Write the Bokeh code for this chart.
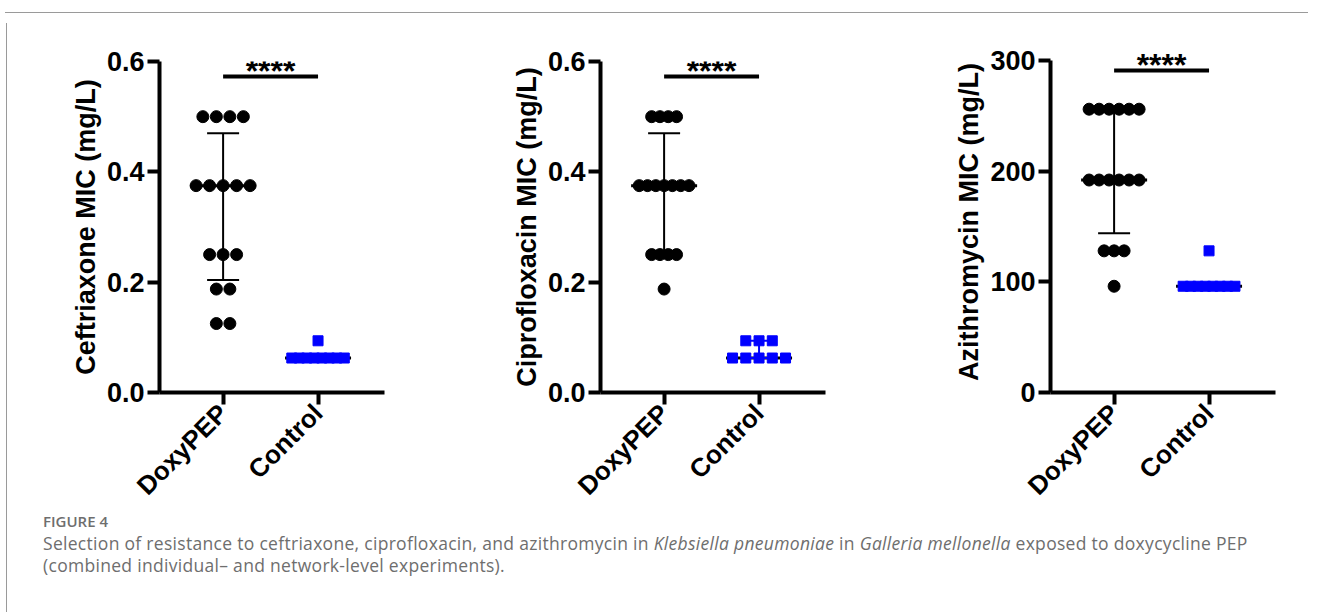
import math
from bokeh.plotting import figure
from bokeh.models import FixedTicker, Div, Spacer, Range1d, NumeralTickFormatter, Label
from bokeh.layouts import row, column
from bokeh.embed import file_html
from bokeh.resources import INLINE

# ---------------- data ----------------
categories = ["DoxyPEP", "Control"]

cef_doxy = [0.5, 0.5, 0.5, 0.5, 0.375, 0.375, 0.375, 0.375, 0.375,
            0.25, 0.25, 0.25, 0.1875, 0.1875, 0.125, 0.125]
cef_ctrl = [0.0625, 0.0625, 0.0625, 0.0625, 0.0625, 0.0625, 0.0625, 0.0625, 0.09375]
cef_median = [0.375, 0.0625]
cef_q1 = [0.204, 0.0625]
cef_q3 = [0.47, 0.0625]

cip_doxy = [0.5, 0.5, 0.5, 0.5, 0.375, 0.375, 0.375, 0.375, 0.375, 0.375, 0.375,
            0.25, 0.25, 0.25, 0.25, 0.1875]
cip_ctrl = [0.0625, 0.0625, 0.0625, 0.0625, 0.0625, 0.09375, 0.09375, 0.09375]
cip_median = [0.375, 0.0625]
cip_q1 = [0.25, 0.0625]
cip_q3 = [0.47, 0.09375]

azi_doxy = [256, 256, 256, 256, 256, 256, 192, 192, 192, 192, 192, 192,
            128, 128, 128, 96]
azi_ctrl = [96, 96, 96, 96, 96, 96, 96, 96, 128]
azi_median = [192, 96]
azi_q1 = [144, 96]
azi_q3 = [256, 96]

y_labels = ["Ceftriaxone MIC (mg/L)", "Ciprofloxacin MIC (mg/L)", "Azithromycin MIC (mg/L)"]
y_ticks_small = [0, 0.2, 0.4, 0.6]
y_ticks_azi = [0, 100, 200, 300]
sig_text = "****"
sig_small = 0.573
sig_azi = 291

caption_label = "FIGURE 4"

# ---------------- style / layout ----------------
FONT = "Liberation Sans"
FRAME_W = 225
X0, X1 = 0.33, 2.70
PX = FRAME_W / (X1 - X0)
BLUE = "#0000FF"
FIG_TOP = 16      # page y of the figure's top edge
ZERO_Y = 390      # page y of the value 0


def spread(vals, center, step_px):
    xs = []
    counts = {}
    for v in vals:
        counts[v] = counts.get(v, 0) + 1
    idx = {}
    for v in vals:
        k = counts[v]
        i = idx.get(v, 0)
        idx[v] = i + 1
        xs.append(center + (i - (k - 1) / 2) * step_px / PX)
    return xs


def make_panel(ylabel, doxy, ctrl, med, q1, q3, yticks, yfmt, yend, axis_top,
               frame_top, sig_y, step_d, step_c, width, right):
    # the axis 0..yend spans ZERO_Y..axis_top; the view may reach a bit higher
    yview = yend * (ZERO_Y - frame_top) / (ZERO_Y - axis_top)
    p = figure(width=width, height=499, x_range=Range1d(X0, X1),
               y_range=Range1d(0, yview), output_backend="svg",
               toolbar_location=None, min_border_left=147,
               min_border_right=right, min_border_top=frame_top - FIG_TOP,
               min_border_bottom=125)
    p.grid.visible = False
    p.outline_line_color = None
    p.background_fill_color = "white"
    p.border_fill_color = "white"

    for ax in (p.xaxis[0], p.yaxis[0]):
        ax.axis_line_width = 4
        ax.axis_line_color = "black"
        ax.major_tick_line_width = 4
        ax.major_tick_line_color = "black"
        ax.major_tick_out = 12
        ax.major_tick_in = 0
        ax.minor_tick_line_color = None
        ax.major_label_text_font = FONT
        ax.major_label_text_font_style = "bold"
        ax.major_label_text_color = "black"

    yax = p.yaxis[0]
    yax.ticker = FixedTicker(ticks=yticks)
    yax.bounds = (0, yend)
    yax.formatter = NumeralTickFormatter(format=yfmt)
    yax.major_label_text_font_size = "27px"
    yax.major_label_standoff = 3
    yax.axis_label = ylabel
    yax.axis_label_text_font = FONT
    yax.axis_label_text_font_style = "bold"
    yax.axis_label_text_font_size = "27px"
    yax.axis_label_text_color = "black"
    yax.axis_label_standoff = 3

    xax = p.xaxis[0]
    xax.ticker = FixedTicker(ticks=[1, 2])
    xax.major_label_overrides = {1: categories[0], 2: categories[1]}
    xax.major_label_text_font_size = "26px"
    xax.major_label_orientation = math.pi / 4
    xax.major_label_standoff = 4

    cx = [1, 2]
    # median lines
    p.segment(x0=[c - 33 / PX for c in cx], x1=[c + 33 / PX for c in cx],
              y0=med, y1=med, line_color="black", line_width=3)
    # interquartile range bars
    cols = ["black", BLUE]
    p.segment(x0=cx, x1=cx, y0=q1, y1=q3, line_color=cols, line_width=2)
    p.segment(x0=[c - 16 / PX for c in cx], x1=[c + 16 / PX for c in cx],
              y0=q1, y1=q1, line_color=cols, line_width=2)
    p.segment(x0=[c - 16 / PX for c in cx], x1=[c + 16 / PX for c in cx],
              y0=q3, y1=q3, line_color=cols, line_width=2)

    p.scatter(spread(doxy, 1, step_d), doxy, marker="circle", size=12,
              fill_color="black", line_color="black")
    p.scatter(spread(ctrl, 2, step_c), ctrl, marker="square", size=10,
              fill_color=BLUE, line_color=BLUE)

    # significance bar
    p.segment(x0=[1], x1=[2], y0=[sig_y], y1=[sig_y], line_color="black",
              line_width=4)
    p.add_layout(Label(x=1.5, y=sig_y, text=sig_text, text_align="center",
                       text_baseline="alphabetic", y_offset=5,
                       text_font=FONT, text_font_style="bold",
                       text_font_size="32px", text_color="black"))
    return p


p1 = make_panel(y_labels[0], cef_doxy, cef_ctrl, cef_median, cef_q1, cef_q3,
                y_ticks_small, "0.0", 0.6, 59, 59, sig_small, 13.5, 7.5, 441, 69)
p2 = make_panel(y_labels[1], cip_doxy, cip_ctrl, cip_median, cip_q1, cip_q3,
                y_ticks_small, "0.0", 0.6, 59, 59, sig_small, 8.3, 13.25, 450, 78)
p3 = make_panel(y_labels[2], azi_doxy, azi_ctrl, azi_median, azi_q1, azi_q3,
                y_ticks_azi, "0", 300, 58, 49, sig_azi, 10, 7.4, 410, 38)

caption_html = (
    '<div style="font-family:\'Open Sans\',sans-serif;color:#6e6e6e;'
    'position:relative;top:-10px;'
    'padding-left:26px;padding-top:0px;white-space:nowrap;margin:0;">'
    '<div style="font-size:15px;font-weight:600;line-height:18px;margin:0;">'
    + caption_label + '</div>'
    '<div style="font-size:17.5px;letter-spacing:0.3px;line-height:22px;margin:2px 0 0 0;">'
    'Selection of resistance to ceftriaxone, ciprofloxacin, and azithromycin in '
    '<i>Klebsiella pneumoniae</i> in <i>Galleria mellonella</i> exposed to doxycycline PEP'
    '<br>(combined individual\u2013 and network-level experiments).</div></div>'
)
caption = Div(text=caption_html, width=1293, height=90, styles={"overflow": "visible"})

top_line = Div(text="", width=1303, height=1, styles={"background-color": "#9a9a9a"})
left_line = Div(text="", width=1, height=589, styles={"background-color": "#9a9a9a"})

layout = column(
    Spacer(width=1303, height=7),
    top_line,
    row(Spacer(width=1, height=589), left_line,
        column(row(column(p1), column(p2), column(p3)), caption)),
)

open("out.html", "w").write(file_html(layout, INLINE))
